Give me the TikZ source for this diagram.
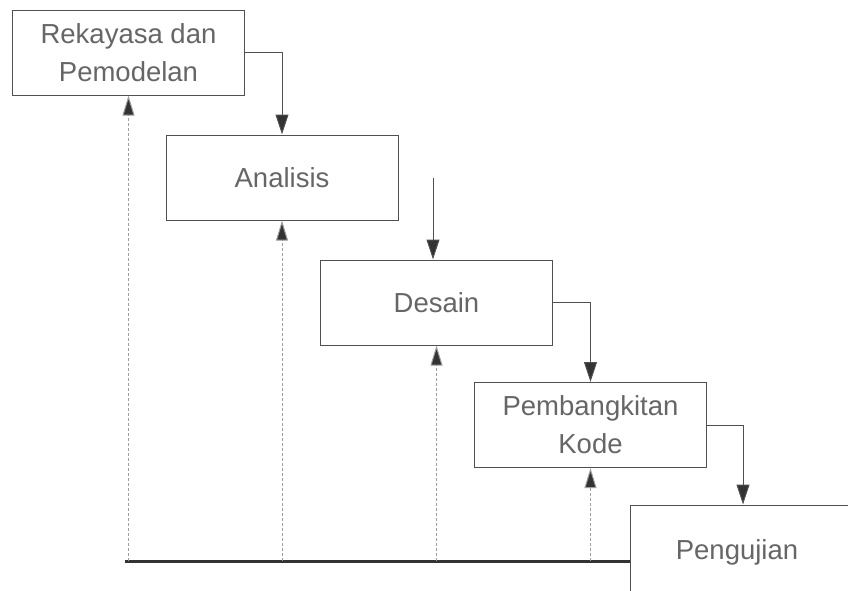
\documentclass[tikz,border=0pt]{standalone}
\usepackage{fontspec}
\setmainfont{Liberation Sans}
\usetikzlibrary{arrows.meta}
\definecolor{txt}{HTML}{666666}
\definecolor{edge}{HTML}{505050}
\definecolor{tip}{HTML}{333333}
\begin{document}
\begin{tikzpicture}[x=1pt,y=-1pt,
  stage/.style={draw=edge, line width=1pt, fill=white, minimum width=232pt, minimum height=85pt,
    inner sep=0pt, align=center, text=txt, font=\fontsize{27.5}{38}\selectfont},
  flow/.style={draw=edge, line width=1pt, -{Triangle[length=20pt,width=13pt,fill=tip]}},
  back/.style={draw=gray!75, line width=1pt, densely dashed, -{Triangle[length=20pt,width=12pt,fill=tip]}},
  baseline/.style={draw=tip, line width=3pt}]
\useasboundingbox (0,0) rectangle (848,590);
\clip (0,0) rectangle (848,590);
\fill[white] (0,0) rectangle (848,590);
\node[stage] (b1) at (128.5,52.5) {Rekayasa dan\\Pemodelan};
\node[stage] (b2) at (282,177.5) {Analisis};
\node[stage] (b3) at (436.5,302.5) {Desain};
\node[stage] (b4) at (590.5,425) {Pembangkitan\\Kode};
\node[stage, minimum width=240pt, minimum height=95pt] (b5) at (750,552.5) {\hspace*{-26pt}Pengujian};
\coordinate (bl) at (125,561);
\coordinate (s2) at (433,178);
% baseline
\draw[baseline] (bl) -- (b5.west |- bl);
% down arrows
\draw[flow] (b1.east) -| (b2.north);
\draw[flow] (s2) -- (s2 |- b3.north);
\draw[flow] (b3.east) -| (b4.north);
\draw[flow] (b4.east) -| (b5.north -| 743,0);
% feedback arrows
\draw[back] (b1.south |- bl) -- (b1.south);
\draw[back] (b2.south |- bl) -- (b2.south);
\draw[back] (b3.south |- bl) -- (b3.south);
\draw[back] (b4.south |- bl) -- (b4.south);
\end{tikzpicture}
\end{document}
